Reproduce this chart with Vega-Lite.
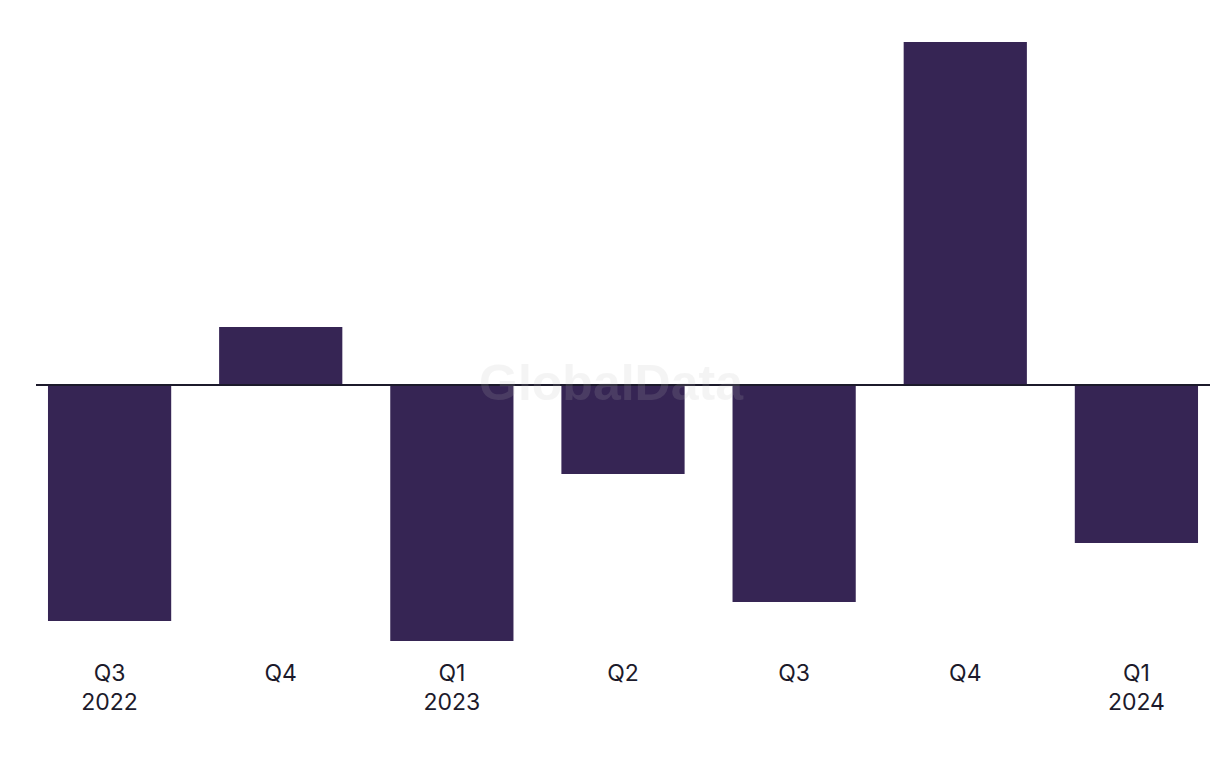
{
  "$schema": "https://vega.github.io/schema/vega-lite/v6.json",
  "autosize": "none",
  "width": 1174,
  "height": 599,
  "padding": {"left": 36, "top": 42, "right": 10, "bottom": 127},
  "background": "white",
  "config": {"view": {"stroke": null}},
  "data": {
    "values": [
      {"period": "Q3 2022", "value": -23.6},
      {"period": "Q4 2022", "value": 5.8},
      {"period": "Q1 2023", "value": -25.6},
      {"period": "Q2 2023", "value": -8.9},
      {"period": "Q3 2023", "value": -21.7},
      {"period": "Q4 2023", "value": 34.3},
      {"period": "Q1 2024", "value": -15.8}
    ]
  },
  "layer": [
    {
      "mark": {"type": "bar", "color": "#362554"},
      "encoding": {
        "x": {
          "field": "period",
          "type": "nominal",
          "sort": null,
          "scale": {"paddingInner": 0.28, "paddingOuter": 0.07},
          "axis": {
            "title": null,
            "domain": false,
            "ticks": false,
            "labelAngle": 0,
            "labelFont": "Inter",
            "labelFontSize": 23,
            "labelColor": "#1c1a2b",
            "labelPadding": 21,
            "labelLineHeight": 29,
            "labelBaseline": "top",
            "labelExpr": "indexof(['Q3 2022','Q1 2023','Q1 2024'], datum.value) >= 0 ? split(datum.value, ' ') : split(datum.value, ' ')[0]"
          }
        },
        "y": {
          "field": "value",
          "type": "quantitative",
          "scale": {"domain": [-25.6, 34.3], "nice": false, "zero": true},
          "axis": null
        }
      }
    },
    {
      "mark": {"type": "rule", "color": "#1c1a2b", "strokeWidth": 2},
      "encoding": {"y": {"datum": 0, "type": "quantitative"}}
    },
    {
      "data": {"values": [{"period": "Q2 2023", "value": 0, "wm": "GlobalData"}]},
      "mark": {
        "type": "text",
        "font": "Liberation Sans",
        "fontWeight": "bold",
        "fontSize": 50,
        "color": "#bcbcbc",
        "opacity": 0.15,
        "dx": -12,
        "baseline": "middle",
        "align": "center"
      },
      "encoding": {
        "x": {"field": "period", "type": "nominal", "sort": null},
        "y": {"field": "value", "type": "quantitative"},
        "text": {"field": "wm"}
      }
    }
  ]
}
